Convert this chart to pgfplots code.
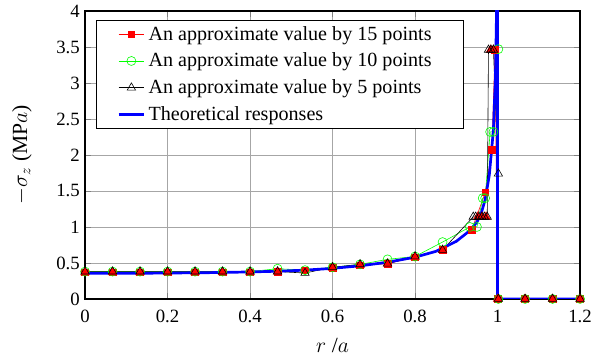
\documentclass[border=0pt]{standalone}
\usepackage{pgfplots}
\pgfplotsset{compat=1.18}
\usepackage{fontspec}
\setmainfont{Liberation Serif}
\begin{document}
\begin{tikzpicture}
\begin{axis}[
  name=ax,
  scale only axis, width=330pt, height=192pt,
  xmin=0, xmax=1.2, ymin=0, ymax=4,
  xtick={0,0.2,...,1.2}, ytick={0,0.5,...,4},
  xticklabels={0,0.2,0.4,0.6,0.8,1,1.2},
  yticklabels={0,0.5,1,1.5,2,2.5,3,3.5,4},
  tick align=inside, axis line style={thick},
  grid=major, major grid style={gray!70, thin},
  xlabel={$r$ /$a$},
  xlabel style={font=\Large, at={(axis description cs:0.5,0)}, anchor=center, yshift=-31pt},
  ylabel={$-\sigma_z$ (MP$a$)},
  ylabel style={font=\Large, at={(axis description cs:0,0.5)}, anchor=center, rotate=0, yshift=42pt},
  tick label style={font=\fontsize{12.5}{14}\selectfont},
  xticklabel style={yshift=-4pt},
  legend style={at={(axis description cs:0.022,0.969)}, anchor=north west, font=\fontsize{13.4}{15.5}\selectfont, draw=black, row sep=3pt, inner xsep=14pt, inner ysep=2pt},
  legend cell align=left,
  clip=true,
]
\addplot[red, mark=square*, mark size=2.2pt] coordinates {
(0,0.37) (0.0667,0.37) (0.1333,0.37) (0.2,0.37) (0.2667,0.37) (0.3333,0.37) (0.4,0.37) (0.4667,0.38) (0.5333,0.40) (0.6,0.43) (0.6667,0.47) (0.7333,0.49) (0.8,0.58) (0.8667,0.68) (0.9374,0.96) (0.9705,1.48) (0.986,2.07) (0.994,3.46) (1.0,0) (1.0667,0) (1.1333,0) (1.2,0)};
\addlegendentry{\makebox[194pt][l]{An approximate value by 15 points}}
\addplot[green, mark=o, mark size=3pt] coordinates {
(0,0.38) (0.0667,0.38) (0.1333,0.38) (0.2,0.38) (0.2667,0.38) (0.3333,0.38) (0.4,0.38) (0.4667,0.42) (0.5333,0.40) (0.6,0.44) (0.6667,0.48) (0.7333,0.55) (0.8,0.59) (0.8667,0.79) (0.933,1.0) (0.95,1.0) (0.964,1.40) (0.97,1.40) (0.982,2.32) (0.99,2.32) (1.002,3.47) (1.002,0) (1.0667,0) (1.1333,0) (1.2,0)};
\addlegendentry{An approximate value by 10 points}
\addplot[forget plot, only marks, red, mark=triangle*, mark size=3.2pt] coordinates {
(0,0.37) (0.0667,0.37) (0.1333,0.37) (0.2,0.37) (0.2667,0.37) (0.3333,0.37) (0.4,0.37) (0.4667,0.38) (0.6,0.43) (0.6667,0.47) (0.7333,0.49) (0.8,0.58) (0.8667,0.68) (0.952,1.14) (0.962,1.14) (0.972,1.14) (0.983,3.46) (0.990,3.46) (1.0,0) (1.0667,0) (1.1333,0) (1.2,0)};
\addplot[black, mark=triangle, mark size=3.2pt] coordinates {
(0,0.38) (0.0667,0.38) (0.1333,0.38) (0.2,0.38) (0.2667,0.38) (0.3333,0.38) (0.4,0.38) (0.4667,0.38) (0.5333,0.36) (0.6,0.44) (0.6667,0.48) (0.7333,0.49) (0.8,0.59) (0.8667,0.68) (0.941,1.14) (0.947,1.14) (0.955,1.14) (0.962,1.14) (0.968,1.14) (0.975,1.14) (0.978,3.46) (0.984,3.46) (0.99,3.46) (1.002,1.74) (1.002,0) (1.0667,0) (1.1333,0) (1.2,0)};
\addlegendentry{An approximate value by 5 points}
\addplot[blue, line width=1.8pt, mark=none] coordinates {
(0,0.355) (0.1,0.355) (0.2,0.36) (0.3,0.365) (0.4,0.375) (0.467,0.385) (0.533,0.40) (0.6,0.425) (0.667,0.46) (0.733,0.51) (0.8,0.58) (0.85,0.66) (0.9,0.80) (0.933,0.95) (0.95,1.07) (0.96,1.18) (0.97,1.38) (0.98,1.72) (0.99,2.35) (0.995,3.1) (0.999,4.5) (1.0,10) (1.0,0) (1.2,0)};
\addlegendentry{Theoretical responses}
\end{axis}
\pgfresetboundingbox
\path[use as bounding box] ([shift={(-56.7pt,-38pt)}]ax.south west) rectangle ([shift={(9.3pt,7.3pt)}]ax.north east);
\end{tikzpicture}
\end{document}
